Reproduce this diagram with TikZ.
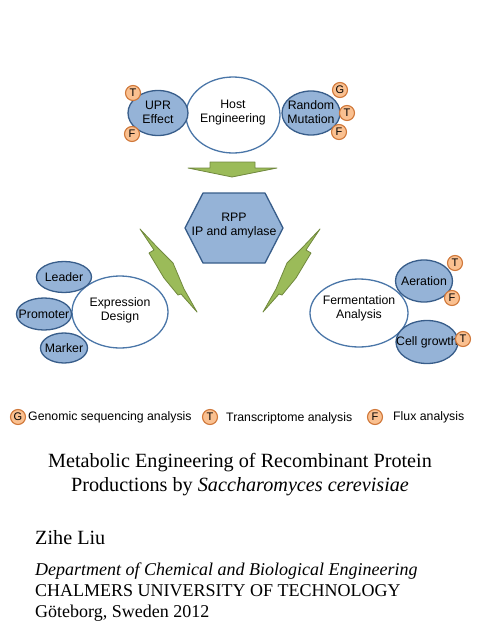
\documentclass[tikz,border=0pt]{standalone}
\usepackage{fontspec}
\setmainfont{Liberation Serif}
\newfontfamily\arial{Liberation Sans}
\usetikzlibrary{shapes.geometric}
\definecolor{bfill}{HTML}{95B3D7}
\definecolor{bdraw}{HTML}{385D8A}
\definecolor{wdraw}{HTML}{4A76A8}
\definecolor{ofill}{HTML}{FAC090}
\definecolor{odraw}{HTML}{D0783A}
\definecolor{gfill}{HTML}{9BBB59}
\definecolor{gdraw}{HTML}{71893F}
\tikzset{
  sans/.style={font=\arial\fontsize{12.3}{14}\selectfont, text=black},
  wellipse/.style={ellipse, draw=wdraw, line width=1.3pt, fill=white, inner sep=0pt},
  bellipse/.style={ellipse, draw=bdraw, line width=1.3pt, fill=bfill, inner sep=0pt},
  badge/.style={circle, draw=odraw, line width=1.1pt, fill=ofill, minimum size=15pt, inner sep=0pt, font=\arial\fontsize{11}{12}\selectfont},
  lbl/.style={sans, align=center, inner sep=0pt},
  garrow/.style={fill=gfill, draw=gdraw, line width=0.8pt, line join=round},
  legtext/.style={sans, anchor=west, inner sep=0pt},
}
\begin{document}
\begin{tikzpicture}[x=1pt,y=-1pt]
\useasboundingbox (0,0) rectangle (480,640);
% Host engineering
\node[wellipse, minimum width=94pt, minimum height=76pt] (host) at (233,115) {};
\node[lbl] (hostt) at (233,113) {Host\\Engineering};
\node[bellipse, minimum width=60pt, minimum height=45pt] (upr) at (158,113) {};
\node[lbl] (uprt) at (158,112) {UPR\\Effect};
\node[bellipse, minimum width=58pt, minimum height=44pt] (rand) at (311,113) {};
\node[lbl] (randt) at (311,112) {Random\\Mutation};
\node[badge] (uprT) at (133,93) {T};
\node[badge] (uprF) at (132,134) {F};
\node[badge] (randG) at (340,90) {G};
\node[badge] (randT) at (347,113) {T};
\node[badge] (randF) at (339,132) {F};
% down arrow
\draw[garrow] (210,162) -- (255,162) -- (255,168) -- (277,168) -- (232,177) -- (188,168) -- (210,168) -- cycle;
% hexagon
\draw[fill=bfill, draw=bdraw, line width=1.3pt, line join=round]
  (185,228) -- (203,193) -- (265,193) -- (283,228) -- (265,263) -- (203,263) -- cycle;
\node[lbl] (rpp) at (234,226) {RPP\\IP and amylase};
% lightning bolts
\draw[garrow] (140,229) -- (158,248) -- (173,263) -- (184,289) -- (197,312) -- (181,294) -- (178,295) -- (164,278) -- (149,253) -- (154,250) -- cycle;
\draw[garrow] (320,229) -- (302,248) -- (287,263) -- (276,289) -- (263,312) -- (279,294) -- (282,295) -- (296,278) -- (311,253) -- (306,250) -- cycle;
% Expression design
\node[wellipse, minimum width=96pt, minimum height=72pt] (expr) at (120,312) {};
\node[lbl] (exprt) at (120,310) {Expression\\Design};
\node[bellipse, minimum width=55pt, minimum height=31pt] (leader) at (64,277) {};
\node[lbl] (leadert) at (64,277) {Leader};
\node[bellipse, minimum width=55pt, minimum height=32pt] (prom) at (44,314) {};
\node[lbl] (promt) at (44,314) {Promoter};
\node[bellipse, minimum width=47pt, minimum height=30pt] (marker) at (64,348) {};
\node[lbl] (markert) at (64,348) {Marker};
% Fermentation analysis
\node[wellipse, minimum width=98pt, minimum height=68pt] (ferm) at (359,313) {};
\node[lbl] (fermt) at (359,308) {Fermentation\\Analysis};
\node[bellipse, minimum width=57pt, minimum height=42pt] (aer) at (424,281) {};
\node[lbl] (aert) at (424,281) {Aeration};
\node[bellipse, minimum width=62pt, minimum height=43pt] (cell) at (427,342) {};
\node[lbl] (cellt) at (427,342) {Cell growth};
\node[badge] (aerT) at (455,263) {T};
\node[badge] (aerF) at (452,298) {F};
\node[badge] (cellT) at (463,339) {T};
% legend
\node[badge] (legG) at (18,417) {G};
\node[legtext] (legGt) at (28,417) {Genomic sequencing analysis};
\node[badge] (legT) at (210,417) {T};
\node[legtext] (legTt) at (226,418) {Transcriptome analysis};
\node[badge] (legF) at (375,417) {F};
\node[legtext] (legFt) at (393,417) {Flux analysis};
% title block
\node[align=center, inner sep=0pt, font=\fontsize{20.2}{24}\selectfont] (title) at (240,475)
  {Metabolic Engineering of Recombinant Protein\\Productions by \textit{Saccharomyces cerevisiae}};
\node[anchor=west, inner sep=0pt, font=\fontsize{20.2}{24}\selectfont] (author) at (35,538) {Zihe Liu};
\node[anchor=north west, align=left, inner sep=0pt, font=\fontsize{18}{20.6}\selectfont] (affil) at (35,563)
  {\textit{Department of Chemical and Biological Engineering}\\CHALMERS UNIVERSITY OF TECHNOLOGY\\Göteborg, Sweden 2012};
\end{tikzpicture}
\end{document}
